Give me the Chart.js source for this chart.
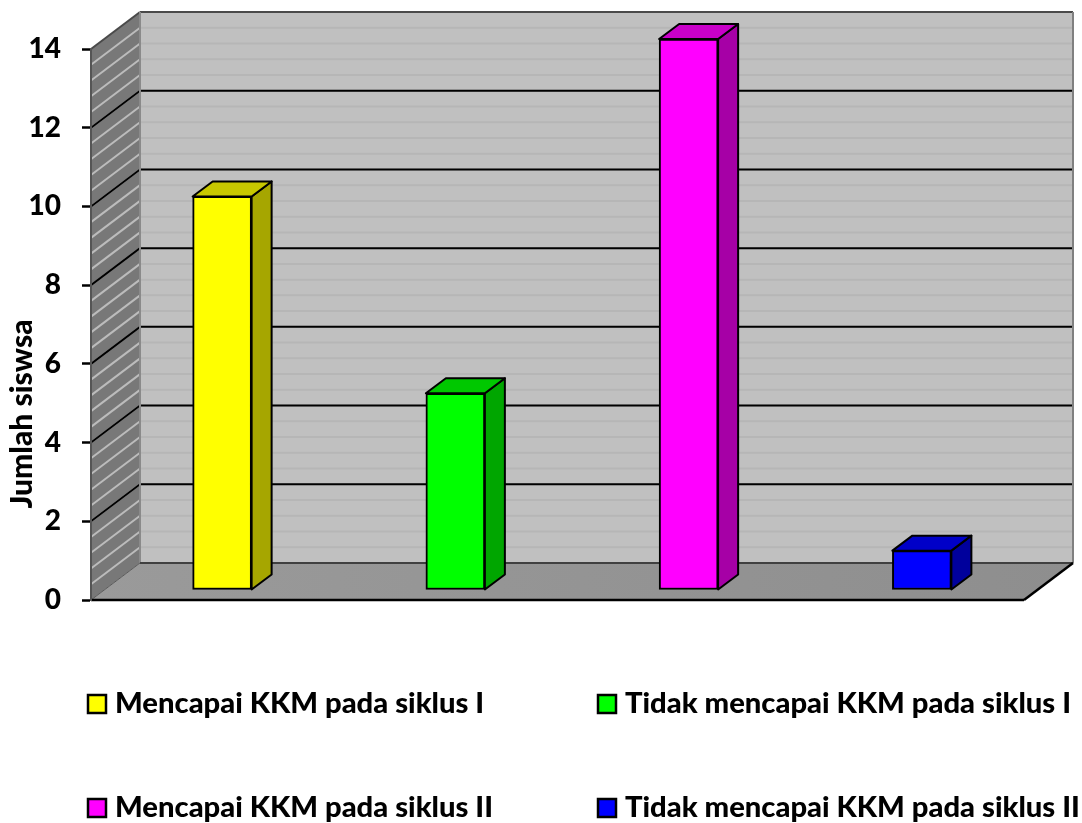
<!DOCTYPE html>
<html>
<head>
<meta charset="utf-8">
<title>Jumlah siswa</title>
<script src="https://cdn.jsdelivr.net/npm/chart.js@4/dist/chart.umd.min.js"></script>
<style>
  html, body { margin: 0; padding: 0; background: #fff; }
  canvas { display: block; }
</style>
</head>
<body>
<canvas id="grafik" width="1082" height="823"></canvas>
<script>
var categories = [
  'Mencapai KKM pada siklus I',
  'Tidak mencapai KKM pada siklus I',
  'Mencapai KKM pada siklus II',
  'Tidak mencapai KKM pada siklus II'
];
var jumlahSiswa = [10, 5, 14, 1];
var warnaDepan = ['#ffff00', '#00ff00', '#ff00ff', '#0000ff'];
var warnaSisi  = ['#a6a600', '#00a600', '#a600a6', '#00009c'];
var warnaAtas  = ['#c8c800', '#00c800', '#c800c8', '#0000c8'];

var yMax = 14;
var yStep = 2;
var minorStep = 0.4;
var yTitle = 'Jumlah siswsa';
var FONT = 'Lato, "Open Sans", sans-serif';

// depth of the 3D box: whole plot, and the bars inside it
var depth    = { x: 49, y: -37 };
var barDepth = { x: 20, y: -15 };
var barShift = { x: 14.5, y: -10 };

function line(ctx, x1, y1, x2, y2, color, width) {
  ctx.beginPath();
  ctx.moveTo(x1, y1);
  ctx.lineTo(x2, y2);
  ctx.strokeStyle = color;
  ctx.lineWidth = width;
  ctx.stroke();
}

function poly(ctx, pts, fill) {
  ctx.beginPath();
  pts.forEach(function(p, i) {
    if (i) ctx.lineTo(p[0], p[1]); else ctx.moveTo(p[0], p[1]);
  });
  ctx.closePath();
  ctx.fillStyle = fill;
  ctx.fill();
}

var box3d = {
  id: 'box3d',
  beforeDraw: function(chart) {
    var ctx = chart.ctx, a = chart.chartArea, y = chart.scales.y;
    var bx = a.left + depth.x, br = a.right + depth.x;
    var dy = depth.y;
    var v, py;

    ctx.save();
    // side wall, back wall
    poly(ctx, [[a.left, a.top], [bx, a.top + dy], [bx, a.bottom + dy], [a.left, a.bottom]], '#787878');
    poly(ctx, [[bx, a.top + dy], [br, a.top + dy], [br, a.bottom + dy], [bx, a.bottom + dy]], '#c0c0c0');

    // floor
    var g = ctx.createLinearGradient(a.left, 0, br, 0);
    g.addColorStop(0, '#9a9a9a');
    g.addColorStop(1, '#8e8e8e');
    poly(ctx, [[a.left, a.bottom], [bx, a.bottom + dy], [br, a.bottom + dy], [a.right, a.bottom]], g);

    // minor grid
    for (v = minorStep; v < yMax; v += minorStep) {
      py = y.getPixelForValue(v);
      line(ctx, bx, py + dy, br, py + dy, '#b6b6b6', 2);
      line(ctx, a.left, py, bx, py + dy, '#bcbcbc', 2);
    }

    // major grid
    for (v = yStep; v < yMax; v += yStep) {
      py = y.getPixelForValue(v);
      line(ctx, bx, py + dy, br, py + dy, '#000', 2);
      line(ctx, a.left, py, bx, py + dy, '#000', 2);
    }

    // edges of the box
    line(ctx, bx, a.top + dy, br, a.top + dy, '#4a4a4a', 2);
    line(ctx, a.left, a.top, bx, a.top + dy, '#4a4a4a', 2);
    line(ctx, bx, a.top + dy, bx, a.bottom + dy, '#8a8a8a', 2);
    line(ctx, br, a.top + dy, br, a.bottom + dy, '#808080', 2);
    line(ctx, bx, a.bottom + dy, br, a.bottom + dy, '#404040', 2);
    line(ctx, a.left, a.bottom, bx, a.bottom + dy, '#5a5a5a', 1);
    line(ctx, a.left, a.bottom, a.right, a.bottom, '#000', 2.5);
    line(ctx, a.right, a.bottom, br, a.bottom + dy, '#000', 2.5);
    ctx.restore();
  },
  beforeDatasetsDraw: function(chart) {
    var ctx = chart.ctx;
    var bars = chart.getDatasetMeta(0).data;
    ctx.save();
    ctx.translate(barShift.x, barShift.y);
    bars.forEach(function(bar, i) {
      var p = bar.getProps(['x', 'y', 'base', 'width'], true);
      var l = p.x - p.width / 2, r = p.x + p.width / 2;
      var dx = barDepth.x, dy = barDepth.y;
      var side = [[r, p.y], [r + dx, p.y + dy], [r + dx, p.base + dy], [r, p.base]];
      var top = [[l, p.y], [l + dx, p.y + dy], [r + dx, p.y + dy], [r, p.y]];
      poly(ctx, side, warnaSisi[i]);
      ctx.strokeStyle = '#000';
      ctx.lineWidth = 2;
      ctx.lineJoin = 'round';
      ctx.stroke();
      poly(ctx, top, warnaAtas[i]);
      ctx.stroke();
    });
    // the front faces are drawn by Chart.js inside this same translation
  },
  afterDatasetsDraw: function(chart) {
    chart.ctx.restore();
  },
  afterDraw: function(chart) {
    var ctx = chart.ctx;
    ctx.save();
    ctx.fillStyle = '#000';

    // y axis title sits low on the axis
    ctx.save();
    ctx.translate(22, 414);
    ctx.rotate(-Math.PI / 2);
    ctx.font = '900 30px ' + FONT;
    ctx.textAlign = 'center';
    ctx.textBaseline = 'middle';
    ctx.fillText(yTitle, 0, 0);
    ctx.restore();

    // two column legend
    var colX = [88, 598], rowY = [695, 799];
    categories.forEach(function(name, i) {
      var x = colX[i % 2], y = rowY[Math.floor(i / 2)];
      ctx.fillStyle = warnaDepan[i];
      ctx.fillRect(x, y, 18, 18);
      ctx.strokeStyle = '#000';
      ctx.lineWidth = 2.5;
      ctx.strokeRect(x, y, 18, 18);
      ctx.fillStyle = '#000';
      ctx.font = '900 29.2px ' + FONT;
      ctx.textAlign = 'left';
      ctx.textBaseline = 'alphabetic';
      ctx.fillText(name, x + 27, y + 18);
    });
    ctx.restore();
  }
};

new Chart(document.getElementById('grafik'), {
  type: 'bar',
  data: {
    labels: categories,
    datasets: [{
      data: jumlahSiswa,
      backgroundColor: warnaDepan,
      borderColor: '#000',
      borderWidth: 2,
      borderSkipped: false,
      barThickness: 59,
      clip: false
    }]
  },
  options: {
    responsive: false,
    animation: false,
    devicePixelRatio: 1,
    layout: { padding: { left: 0, top: 49, right: 58, bottom: 223 } },
    plugins: { legend: { display: false }, tooltip: { enabled: false } },
    scales: {
      x: { display: false },
      y: {
        min: 0,
        max: yMax,
        afterFit: function(scale) { scale.width = 91; },
        ticks: {
          stepSize: yStep,
          color: '#000',
          padding: 21,
          font: { family: FONT, size: 28, weight: '900' }
        },
        border: { display: true, color: '#555', width: 2 },
        grid: {
          drawOnChartArea: false,
          drawTicks: true,
          tickLength: 9,
          tickColor: '#000',
          tickWidth: 2.5
        }
      }
    }
  },
  plugins: [box3d]
});
</script>
</body>
</html>
